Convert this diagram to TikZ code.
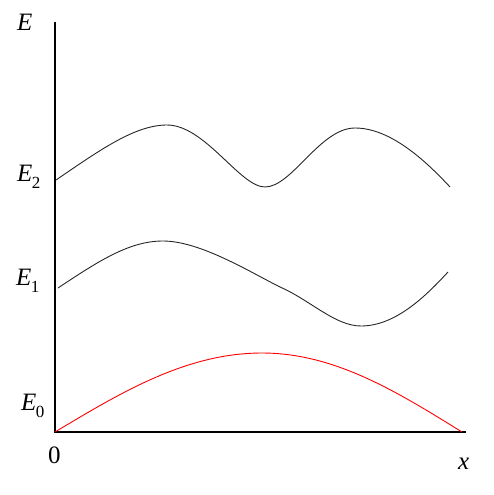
\documentclass[tikz,border=0pt]{standalone}
\usepackage{fontspec}
\setmainfont{Liberation Serif}
\newcommand{\lvlsub}[1]{\kern-0.5pt\raisebox{-7pt}{\fontsize{17}{17}\selectfont\upshape #1}}
\begin{document}
\begin{tikzpicture}[x=1pt,y=-1pt,
  lbl/.style={anchor=base west,inner sep=0pt,font=\fontsize{25}{25}\selectfont\itshape},
  num/.style={anchor=base west,inner sep=0pt,font=\fontsize{25}{25}\selectfont},
  axis/.style={line width=1.2pt,black},
  lvl/.style={line width=0.9pt,black!85},
  gnd/.style={line width=0.9pt,red}]
\useasboundingbox (0,0) rectangle (493,495);
\coordinate (o) at (55,432);
\coordinate (ytop) at (55,22);
\coordinate (xend) at (466,432);
\draw[axis] (ytop) -- (o) -- (xend);
\node[lbl] (lE) at (17,31) {E};
\node[lbl] (lE2) at (17,181) {E\lvlsub{2}};
\node[lbl] (lE1) at (16,285) {E\lvlsub{1}};
\node[lbl] (lE0) at (21,410) {E\lvlsub{0}};
\node[num] (l0) at (48,463) {0};
\node[lbl] (lx) at (458,469) {x};
% E2
\draw[lvl] (56,180) .. controls (100,150) and (135,125) .. (167,125)
  .. controls (205,125) and (240,187) .. (265,187)
  .. controls (292,187) and (320,128) .. (355,128)
  .. controls (390,128) and (425,160) .. (450,187);
% E1
\draw[lvl] (58,288) .. controls (100,260) and (130,241) .. (163,241)
  .. controls (200,241) and (250,272) .. (280,287)
  .. controls (310,300) and (335,326) .. (361,326)
  .. controls (395,326) and (425,297) .. (448,272);
% E0
\draw[gnd] plot[domain=0:90,samples=40,variable=\t] ({55+2.3*\t},{432-79*sin(\t)})
  -- plot[domain=0:90,samples=40,variable=\t] ({262+2.2222*\t},{353+79*(1-cos(\t))});
\end{tikzpicture}
\end{document}
